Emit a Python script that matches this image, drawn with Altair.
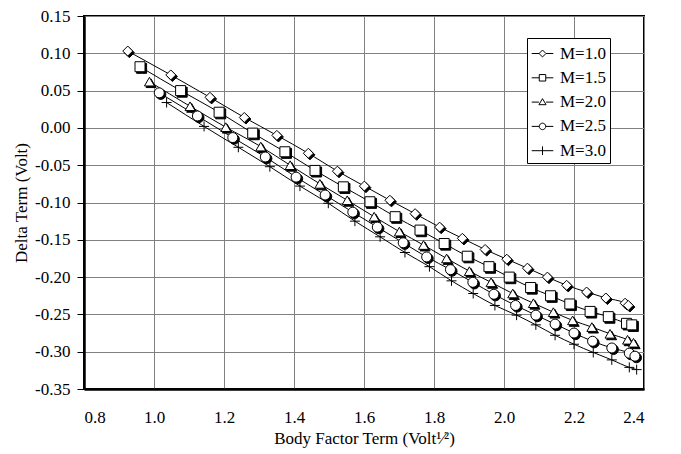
import altair as alt
import pandas as pd

labels = ["M=1.0", "M=1.5", "M=2.0", "M=2.5", "M=3.0"]

x_m10 = [0.925, 1.048, 1.160, 1.258, 1.351, 1.441, 1.524, 1.601, 1.674, 1.746, 1.816,
         1.881, 1.946, 2.008, 2.067, 2.124, 2.179, 2.236, 2.291, 2.346, 2.355]
y_m10 = [0.103, 0.071, 0.041, 0.014, -0.010, -0.034, -0.058, -0.078, -0.097, -0.115, -0.133,
         -0.148, -0.163, -0.176, -0.188, -0.200, -0.211, -0.220, -0.228, -0.235, -0.238]

x_m15 = [0.960, 1.076, 1.186, 1.282, 1.374, 1.460, 1.541, 1.617, 1.689, 1.760, 1.829,
         1.895, 1.957, 2.015, 2.076, 2.133, 2.188, 2.246, 2.298, 2.350, 2.365]
y_m15 = [0.082, 0.050, 0.021, -0.007, -0.032, -0.057, -0.079, -0.099, -0.119, -0.137, -0.155,
         -0.172, -0.186, -0.200, -0.214, -0.225, -0.236, -0.246, -0.253, -0.262, -0.264]

x_m20 = [0.987, 1.103, 1.205, 1.305, 1.389, 1.474, 1.552, 1.629, 1.701, 1.770, 1.836,
         1.901, 1.963, 2.025, 2.084, 2.141, 2.196, 2.251, 2.303, 2.353, 2.370]
y_m20 = [0.062, 0.029, 0.001, -0.025, -0.050, -0.075, -0.097, -0.119, -0.139, -0.157, -0.175,
         -0.192, -0.207, -0.222, -0.235, -0.247, -0.258, -0.267, -0.276, -0.284, -0.288]

x_m25 = [1.015, 1.124, 1.225, 1.318, 1.406, 1.489, 1.568, 1.638, 1.712, 1.779, 1.847,
         1.911, 1.971, 2.033, 2.091, 2.146, 2.200, 2.253, 2.308, 2.358, 2.374]
y_m25 = [0.047, 0.016, -0.013, -0.039, -0.066, -0.090, -0.113, -0.133, -0.154, -0.173, -0.190,
         -0.207, -0.223, -0.238, -0.251, -0.263, -0.275, -0.286, -0.295, -0.302, -0.306]

x_m30 = [1.036, 1.143, 1.241, 1.331, 1.417, 1.498, 1.574, 1.646, 1.717, 1.787, 1.850,
         1.912, 1.974, 2.036, 2.091, 2.146, 2.200, 2.255, 2.308, 2.358, 2.379]
y_m30 = [0.034, 0.002, -0.026, -0.052, -0.078, -0.101, -0.125, -0.146, -0.167, -0.186, -0.205,
         -0.222, -0.238, -0.251, -0.264, -0.278, -0.290, -0.301, -0.311, -0.321, -0.324]

x_ticks = [0.8, 1.0, 1.2, 1.4, 1.6, 1.8, 2.0, 2.2, 2.4]
y_ticks = [-0.35, -0.30, -0.25, -0.20, -0.15, -0.10, -0.05, 0.0, 0.05, 0.10, 0.15]

rows = []
for lab, xs, ys in zip(labels, [x_m10, x_m15, x_m20, x_m25, x_m30],
                       [y_m10, y_m15, y_m20, y_m25, y_m30]):
    for i, (a, b) in enumerate(zip(xs, ys)):
        rows.append({"M": lab, "x": a, "y": b, "i": i})
df = pd.DataFrame(rows)

FONT = "Liberation Serif"

plot_shapes = ["diamond", "square", "triangle-up", "circle", "M-1,0L1,0M0,-1L0,1"]
legend_shapes = [
    "M-1,0L-0.32,0M0.32,0L1,0M0,-0.32L0.32,0L0,0.32L-0.32,0Z",
    "M-1,0L-0.3,0M0.3,0L1,0M-0.3,-0.3L0.3,-0.3L0.3,0.3L-0.3,0.3Z",
    "M-1,0L-0.33,0M0.33,0L1,0M0,-0.32L0.33,0.24L-0.33,0.24Z",
    "M-1,0L-0.3,0M0.3,0L1,0M0.3,0A0.3,0.3,0,1,1,-0.3,0A0.3,0.3,0,1,1,0.3,0Z",
    "M-1,0L1,0M0,-0.4L0,0.4",
]

xenc = alt.X("x:Q", scale=alt.Scale(domain=[0.8, 2.4], nice=False, zero=False),
             axis=alt.Axis(values=x_ticks, tickCount=30, format=".1f", ticks=False,
                           labelPadding=20, labelOverlap=False,
                           title="Body Factor Term (Volt¹⁄²)", titlePadding=5))
yenc = alt.Y("y:Q", scale=alt.Scale(domain=[-0.35, 0.15], nice=False, zero=False),
             axis=alt.Axis(values=y_ticks, tickCount=30, ticks=True, tickSize=7,
                           labelPadding=7, labelOverlap=False,
                           labelExpr="datum.value < 0 ? '-' + format(-datum.value, '.2f') : format(datum.value, '.2f')",
                           title="Delta Term (Volt)", titlePadding=4))

base = alt.Chart(df)

lines = base.mark_line(color="black", strokeWidth=1, interpolate="monotone").encode(
    x=xenc, y=yenc, detail="M:N", order="i:Q")

shadow = base.transform_filter("datum.M != 'M=3.0'").mark_point(
    filled=True, fill="black", stroke="black", strokeWidth=1,
    size=100, opacity=1, xOffset=1.6, yOffset=1.6).encode(
    x="x:Q", y="y:Q",
    shape=alt.Shape("M:N", scale=alt.Scale(domain=labels, range=plot_shapes), legend=None))

points = base.mark_point(filled=True, fill="white", stroke="black", strokeWidth=1,
                         size=100, opacity=1).encode(
    x="x:Q", y="y:Q",
    shape=alt.Shape("M:N", scale=alt.Scale(domain=labels, range=plot_shapes), legend=None))

legend_layer = base.transform_filter("datum.x > 100").mark_point(
    filled=False, color="black", strokeWidth=1, size=467, opacity=1).encode(
    x="x:Q", y="y:Q",
    shape=alt.Shape("M:N", scale=alt.Scale(domain=labels, range=legend_shapes),
                    legend=alt.Legend(title=None, orient="none", legendX=443, legendY=22,
                                      symbolSize=467, symbolOpacity=1,
                                      symbolStrokeColor="black",
                                      symbolStrokeWidth=1, labelFont=FONT, labelFontSize=17,
                                      labelColor="black", labelOffset=6, padding=4,
                                      rowPadding=4.3, strokeColor="black", fillColor="white")))

chart = alt.layer(lines, shadow, points, legend_layer).resolve_scale(
    shape="independent"
).properties(
    width=560, height=373,
    autosize=alt.AutoSizeParams(type="none"),
    padding={"left": 76, "top": 8, "right": 20, "bottom": 62},
    background="white",
).configure_view(
    stroke="black", strokeWidth=2
).configure_axis(
    labelFont=FONT, labelFontSize=17, labelColor="black",
    titleFont=FONT, titleFontSize=17, titleColor="black", titleFontWeight="normal",
    gridColor="#808080", gridWidth=1, gridOpacity=1,
    domainColor="black", domainWidth=2.5, tickColor="black", tickWidth=1,
    labelOverlap=False,
)

chart.save("out.html", embed_options={"renderer": "svg", "actions": False})
